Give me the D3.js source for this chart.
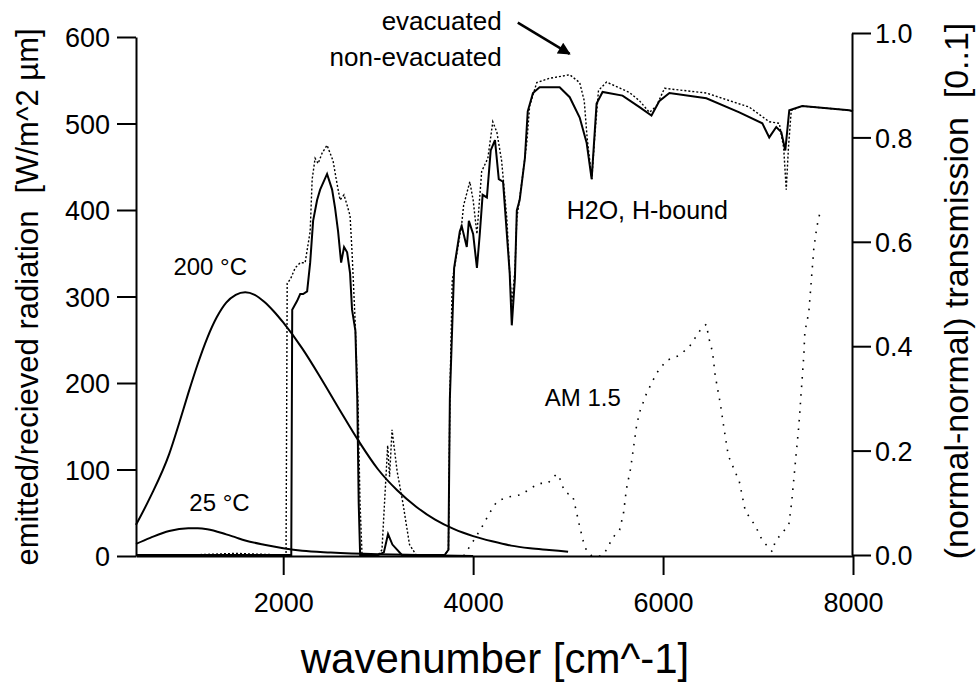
<!DOCTYPE html>
<html>
<head>
  <meta charset="utf-8">
  <title>Radiation and transmission spectra</title>
  <script src="https://d3js.org/d3.v7.min.js"></script>
  <style>
    body {
      margin: 0;
      background: #fff;
    }
    svg text {
      font-family: "Liberation Sans", Arial, Helvetica, sans-serif;
      fill: #000;
    }
    .axis path,
    .axis line {
      stroke: #000;
      stroke-width: 2px;
    }
  </style>
</head>
<body>
  <div id="chart"></div>

  <script>
    // wavenumber axis and tick labels
    var xTicks = [2000, 4000, 6000, 8000];
    var leftTicks = [0, 100, 200, 300, 400, 500, 600];
    var rightTicks = [0, 0.2, 0.4, 0.6, 0.8, 1.0];

    // black body 200 °C  [W/m^2 µm]
    var bb200Wn = [450, 600, 800, 900, 1000, 1100, 1200, 1300, 1400, 1500, 1600, 1700, 1800, 1900, 2000, 2200, 2400, 2600, 2800, 3000, 3200, 3400, 3600, 3800, 4000, 4200, 4400, 4600, 4800, 5000];
    var bb200Val = [36, 68, 118, 152, 188, 222, 252, 276, 293, 302, 305, 302, 294, 283, 270, 240, 205, 168, 132, 100, 76, 57, 42, 31, 23, 17, 12, 9, 7, 5];

    // black body 25 °C  [W/m^2 µm]
    var bb25Wn = [450, 600, 800, 1000, 1100, 1200, 1400, 1500, 1600, 1800, 2000, 2200, 2500, 3000, 3500, 4000];
    var bb25Val = [14, 21, 29, 32, 32, 31, 25, 21.5, 18, 13, 9, 6, 4, 2, 1, 0];

    // AM 1.5 solar spectrum  [W/m^2 µm]
    var am15Wn = [3900, 4000, 4100, 4175, 4250, 4355, 4510, 4600, 4700, 4785, 4880, 4920, 4960, 5000, 5048, 5090, 5120, 5160, 5195, 5250, 5350, 5405, 5468, 5542, 5584, 5615, 5658, 5720, 5752, 5826, 5930, 6035, 6172, 6277, 6403, 6456, 6480, 6520, 6550, 6603, 6645, 6687, 6803, 6866, 6971, 7045, 7118, 7150, 7182, 7324, 7355, 7387, 7430, 7482, 7493, 7535, 7587, 7620, 7660];
    var am15Val = [0, 17, 35, 50, 63, 68, 71, 78, 84, 84, 95, 88, 75, 72, 70, 50, 35, 17, 6, 0, 0, 7, 21, 30, 50, 78, 101, 150, 166, 188, 211, 226, 232, 242, 263, 268, 253, 236, 208, 176, 145, 116, 86, 52, 35, 18, 9, 5, 17, 36, 63, 101, 151, 232, 259, 282, 355, 381, 401];

    // transmission, evacuated (dotted)  [0..1]
    var evacWn = [450, 1000, 1500, 2000, 2030, 2042, 2080, 2126, 2180, 2231, 2284, 2305, 2336, 2368, 2410, 2462, 2525, 2568, 2599, 2640, 2673, 2704, 2725, 2757, 2788, 2809, 2830, 3000, 3040, 3100, 3120, 3146, 3200, 3260, 3330, 3400, 3700, 3740, 3755, 3780, 3840, 3880, 3900, 3965, 4000, 4040, 4090, 4155, 4207, 4250, 4300, 4355, 4385, 4407, 4440, 4460, 4510, 4565, 4595, 4670, 4800, 5017, 5122, 5170, 5200, 5250, 5280, 5320, 5405, 5647, 5752, 5857, 5930, 6015, 6456, 6908, 7118, 7224, 7270, 7297, 7320, 7350, 7465, 7960, 8000];
    var evacVal = [0, 0, 0.003, 0, 0, 0.52, 0.53, 0.55, 0.56, 0.56, 0.62, 0.72, 0.76, 0.75, 0.77, 0.785, 0.755, 0.71, 0.68, 0.69, 0.67, 0.65, 0.58, 0.45, 0.29, 0.1, 0, 0, 0.01, 0.21, 0.15, 0.24, 0.16, 0.1, 0.02, 0, 0, 0.01, 0.3, 0.525, 0.59, 0.635, 0.67, 0.715, 0.68, 0.615, 0.735, 0.76, 0.83, 0.81, 0.755, 0.645, 0.54, 0.48, 0.545, 0.645, 0.71, 0.79, 0.86, 0.905, 0.913, 0.92, 0.905, 0.87, 0.8, 0.72, 0.8, 0.89, 0.906, 0.886, 0.87, 0.848, 0.86, 0.894, 0.885, 0.858, 0.83, 0.827, 0.78, 0.7, 0.78, 0.852, 0.86, 0.852, 0.85];

    // transmission, non-evacuated (solid)  [0..1]
    var nonEvacWn = [450, 2000, 2085, 2095, 2147, 2179, 2210, 2252, 2284, 2315, 2357, 2389, 2462, 2515, 2546, 2578, 2610, 2641, 2673, 2704, 2725, 2760, 2780, 2795, 2810, 3000, 3060, 3104, 3150, 3250, 3700, 3740, 3755, 3800, 3860, 3880, 3933, 3955, 4000, 4040, 4070, 4100, 4145, 4185, 4230, 4270, 4315, 4355, 4385, 4407, 4440, 4460, 4490, 4545, 4575, 4630, 4700, 4911, 5017, 5122, 5195, 5248, 5300, 5363, 5573, 5752, 5878, 5962, 6067, 6456, 6803, 7045, 7118, 7192, 7245, 7287, 7329, 7465, 7960, 8000];
    var nonEvacVal = [0, 0, 0, 0.47, 0.487, 0.5, 0.5, 0.505, 0.56, 0.64, 0.68, 0.7, 0.73, 0.7, 0.665, 0.62, 0.56, 0.59, 0.58, 0.54, 0.47, 0.43, 0.3, 0.1, 0, 0, 0.005, 0.04, 0.02, 0, 0, 0.01, 0.3, 0.55, 0.62, 0.63, 0.59, 0.64, 0.615, 0.55, 0.615, 0.69, 0.685, 0.775, 0.795, 0.72, 0.715, 0.615, 0.54, 0.44, 0.53, 0.66, 0.68, 0.76, 0.85, 0.885, 0.896, 0.896, 0.877, 0.838, 0.79, 0.72, 0.865, 0.887, 0.88, 0.858, 0.842, 0.87, 0.885, 0.875, 0.848, 0.827, 0.8, 0.82, 0.81, 0.775, 0.852, 0.86, 0.852, 0.85];

    var width = 979;
    var height = 683;

    var svg = d3.select("#chart")
      .append("svg")
      .attr("width", width)
      .attr("height", height);

    // scales
    var x = d3.scaleLinear().domain([450, 8000]).range([136, 853]);
    var yL = d3.scaleLinear().domain([0, 600]).range([556, 37]);
    var yR = d3.scaleLinear().domain([0, 1]).range([555, 33]);

    function zip(xs, ys) {
      return xs.map(function(d, i) { return [d, ys[i]]; });
    }

    var lineL = d3.line()
      .x(function(d) { return x(d[0]); })
      .y(function(d) { return yL(d[1]); });
    var lineR = d3.line()
      .x(function(d) { return x(d[0]); })
      .y(function(d) { return yR(d[1]); });

    // curves
    svg.append("path")
      .datum(zip(bb200Wn, bb200Val))
      .attr("d", lineL.curve(d3.curveMonotoneX))
      .attr("fill", "none")
      .attr("stroke", "#000")
      .attr("stroke-width", 2);

    svg.append("path")
      .datum(zip(bb25Wn, bb25Val))
      .attr("d", lineL.curve(d3.curveMonotoneX))
      .attr("fill", "none")
      .attr("stroke", "#000")
      .attr("stroke-width", 2);

    svg.append("path")
      .datum(zip(am15Wn, am15Val))
      .attr("d", lineL.curve(d3.curveLinear))
      .attr("fill", "none")
      .attr("stroke", "#000")
      .attr("stroke-width", 1.6)
      .attr("stroke-dasharray", "1.6,7");

    svg.append("path")
      .datum(zip(evacWn, evacVal))
      .attr("d", lineR)
      .attr("fill", "none")
      .attr("stroke", "#000")
      .attr("stroke-width", 1.4)
      .attr("stroke-dasharray", "2,2");

    svg.append("path")
      .datum(zip(nonEvacWn, nonEvacVal))
      .attr("d", lineR)
      .attr("fill", "none")
      .attr("stroke", "#000")
      .attr("stroke-width", 2);

    // axes
    var xAxis = svg.append("g")
      .attr("class", "axis")
      .attr("transform", "translate(0,556)")
      .call(d3.axisBottom(x).tickValues(xTicks).tickFormat(d3.format("d")).tickSize(19).tickSizeOuter(0));
    xAxis.selectAll("text")
      .attr("y", 56)
      .attr("dy", 0)
      .style("font-size", "27px");

    var leftAxis = svg.append("g")
      .attr("class", "axis")
      .attr("transform", "translate(136,0)")
      .call(d3.axisLeft(yL).tickValues(leftTicks).tickSize(19).tickSizeOuter(0).tickPadding(7));
    leftAxis.selectAll("text")
      .attr("dy", "0.36em")
      .style("font-size", "27px");

    var rightAxis = svg.append("g")
      .attr("class", "axis")
      .attr("transform", "translate(852,0)")
      .call(d3.axisRight(yR).tickValues(rightTicks).tickFormat(d3.format(".1f")).tickSize(19).tickSizeOuter(0).tickPadding(4));
    rightAxis.selectAll("text")
      .attr("dy", "0.36em")
      .style("font-size", "27px");

    svg.selectAll(".axis .domain").attr("stroke-width", 2);

    // axis titles
    svg.append("text")
      .attr("x", 495)
      .attr("y", 673)
      .attr("text-anchor", "middle")
      .style("font-size", "42px")
      .text("wavenumber [cm^-1]");

    svg.append("text")
      .attr("transform", "translate(38,297) rotate(-90)")
      .attr("text-anchor", "middle")
      .style("font-size", "31px")
      .style("white-space", "pre")
      .text("emitted/recieved radiation  [W/m^2 µm]");

    svg.append("text")
      .attr("transform", "translate(968,291) rotate(-90)")
      .attr("text-anchor", "middle")
      .style("font-size", "34px")
      .style("white-space", "pre")
      .text("(normal-normal) transmission  [0..1]");

    // annotations
    svg.append("text")
      .attr("x", x(4300)).attr("y", yR(1.006))
      .attr("text-anchor", "end")
      .style("font-size", "26px")
      .text("evacuated");
    svg.append("text")
      .attr("x", x(4300)).attr("y", yR(0.937))
      .attr("text-anchor", "end")
      .style("font-size", "26px")
      .text("non-evacuated");

    svg.append("defs").append("marker")
      .attr("id", "arrow")
      .attr("viewBox", "0 0 10 10")
      .attr("refX", 9).attr("refY", 5)
      .attr("markerWidth", 7).attr("markerHeight", 5)
      .attr("orient", "auto")
      .append("path")
      .attr("d", "M0,0L10,5L0,10z")
      .attr("fill", "#000");

    svg.append("line")
      .attr("x1", x(4470)).attr("y1", yR(1.02))
      .attr("x2", x(5016)).attr("y2", yR(0.96))
      .attr("stroke", "#000")
      .attr("stroke-width", 2.5)
      .attr("marker-end", "url(#arrow)");

    svg.append("text")
      .attr("x", x(4985)).attr("y", yR(0.644))
      .style("font-size", "25px")
      .text("H2O, H-bound");

    svg.append("text")
      .attr("x", x(844)).attr("y", yL(325))
      .style("font-size", "24px")
      .text("200 °C");

    svg.append("text")
      .attr("x", x(1012)).attr("y", yL(52))
      .style("font-size", "24px")
      .text("25 °C");

    svg.append("text")
      .attr("x", x(4754)).attr("y", yL(173))
      .style("font-size", "24px")
      .text("AM 1.5");
  </script>
</body>
</html>
